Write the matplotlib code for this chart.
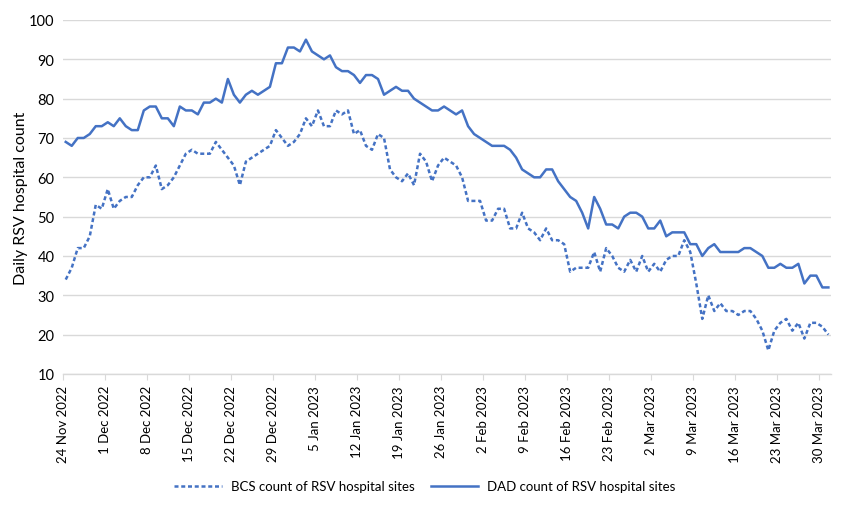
import numpy as np
import pandas as pd
import matplotlib
matplotlib.use("Agg")
import matplotlib.pyplot as plt

plt.rcParams["font.family"] = ["Lato", "DejaVu Sans"]

# ---------- data ----------
start_date = "2022-11-24"

bcs_counts = [
    34, 37, 42, 42, 45, 53, 52, 57, 52, 54,
    55, 55, 58, 60, 60, 63, 57, 58, 60, 63,
    66, 67, 66, 66, 66, 69, 67, 65, 63, 58,
    64, 65, 66, 67, 68, 72, 70, 68, 69, 71,
    75, 73, 77, 73, 73, 77, 76, 77, 71, 72,
    68, 67, 71, 70, 62, 60, 59, 61, 58, 66,
    64, 59, 63, 65, 64, 63, 60, 54, 54, 54,
    49, 49, 52, 52, 47, 47, 51, 47, 46, 44,
    47, 44, 44, 43, 36, 37, 37, 37, 41, 36,
    42, 40, 37, 36, 39, 36, 40, 36, 38, 36,
    39, 40, 40, 44, 41, 33, 24, 30, 26, 28,
    26, 26, 25, 26, 26, 24, 21, 16, 21, 23,
    24, 21, 23, 19, 23, 23, 22, 20,
]

dad_counts = [
    69, 68, 70, 70, 71, 73, 73, 74, 73, 75,
    73, 72, 72, 77, 78, 78, 75, 75, 73, 78,
    77, 77, 76, 79, 79, 80, 79, 85, 81, 79,
    81, 82, 81, 82, 83, 89, 89, 93, 93, 92,
    95, 92, 91, 90, 91, 88, 87, 87, 86, 84,
    86, 86, 85, 81, 82, 83, 82, 82, 80, 79,
    78, 77, 77, 78, 77, 76, 77, 73, 71, 70,
    69, 68, 68, 68, 67, 65, 62, 61, 60, 60,
    62, 62, 59, 57, 55, 54, 51, 47, 55, 52,
    48, 48, 47, 50, 51, 51, 50, 47, 47, 49,
    45, 46, 46, 46, 43, 43, 40, 42, 43, 41,
    41, 41, 41, 42, 42, 41, 40, 37, 37, 38,
    37, 37, 38, 33, 35, 35, 32, 32,
]

series_labels = ["BCS count of RSV hospital sites", "DAD count of RSV hospital sites"]
y_label = "Daily RSV hospital count"

dates = pd.date_range(start_date, periods=len(dad_counts), freq="D")
x = np.arange(len(dates))

blue = "#4472C4"
grid_c = "#D9D9D9"

# ---------- plot ----------
fig = plt.figure(figsize=(8.5, 5.06), dpi=100)
ax = fig.add_axes([0.0738, 0.259, 0.9043, 0.6995])

ax.plot(x, bcs_counts, color=blue, lw=1.8, linestyle=(0, (1.6, 1.1)),
        label=series_labels[0], solid_joinstyle="round", dash_capstyle="butt")
ax.plot(x, dad_counts, color=blue, lw=1.8, label=series_labels[1],
        solid_joinstyle="round")

ax.set_ylim(10, 100)
ax.set_yticks(np.arange(10, 101, 10))
ax.set_xlim(-0.5, len(x) - 0.5)

tick_idx = np.arange(0, len(x), 7)
ax.set_xticks(tick_idx - 0.5)
ax.set_xticklabels([f"{d.day} {d.strftime('%b %Y')}" for d in dates[tick_idx]],
                   rotation=90, fontsize=9.5, color="#000000")

ax.grid(True, axis="y", color=grid_c, lw=1.0)
ax.set_axisbelow(True)
for s in ("top", "right", "left"):
    ax.spines[s].set_visible(False)
ax.spines["bottom"].set_color(grid_c)
ax.spines["bottom"].set_linewidth(1.0)
ax.tick_params(axis="y", length=0, labelsize=10.5, pad=6)
ax.tick_params(axis="x", length=4, color=grid_c, pad=4)

ax.set_ylabel(y_label, fontsize=11.5, labelpad=1)

fig.legend(loc="center", bbox_to_anchor=(0.5, 0.037), ncol=2, frameon=False,
           handlelength=3.6, columnspacing=1.2, handletextpad=0.7,
           prop={"family": ["Lato", "DejaVu Sans"], "size": 9.5})

fig.savefig("out.png", dpi=100)
